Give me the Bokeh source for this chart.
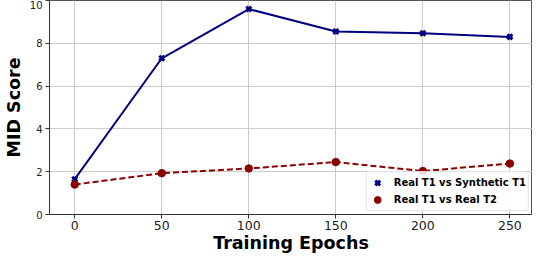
from bokeh.plotting import figure
from bokeh.models import Range1d, FixedTicker, Legend, LegendItem
from bokeh.embed import file_html
from bokeh.resources import INLINE

epochs = [0, 50, 100, 150, 200, 250]
synthetic_t1 = [1.65, 7.3, 9.6, 8.55, 8.47, 8.3]
real_t2 = [1.4, 1.93, 2.15, 2.45, 2.03, 2.38]
x_ticks = [0, 50, 100, 150, 200, 250]
y_ticks = [0, 2, 4, 6, 8, 10]
label_synth = "Real T1 vs Synthetic T1"
label_real = "Real T1 vs Real T2"

p = figure(width=532, height=255, output_backend="svg", toolbar_location=None,
           x_range=Range1d(-14.5, 263), y_range=Range1d(0, 10),
           min_border_left=36, min_border_right=0, min_border_top=0, min_border_bottom=36)

p.line(epochs, synthetic_t1, line_color="#000080", line_width=2)
r1 = p.scatter(epochs, synthetic_t1, marker="x", size=7, line_color="#000080", line_width=3)
p.line(epochs, real_t2, line_color="#8B0000", line_width=2, line_dash="6 3")
r2 = p.scatter(epochs, real_t2, marker="circle", size=7.5, fill_color="#8B0000", line_color="#8B0000")

legend = Legend(items=[LegendItem(label=label_synth, renderers=[r1]),
                       LegendItem(label=label_real, renderers=[r2])],
                location="bottom_right")
legend.label_text_font = "DejaVu Sans"
legend.label_text_font_style = "bold"
legend.label_text_font_size = "10px"
legend.label_text_color = "black"
legend.label_height = 16
legend.glyph_height = 17
legend.glyph_width = 17
legend.spacing = -3
legend.padding = 2
legend.margin = 3
legend.label_standoff = 8
legend.border_line_color = "#cccccc"
legend.border_radius = 3
legend.background_fill_alpha = 0.85
p.add_layout(legend)

p.xaxis.ticker = FixedTicker(ticks=x_ticks)
p.yaxis.ticker = FixedTicker(ticks=y_ticks)
p.xaxis.axis_label = "Training Epochs"
p.yaxis.axis_label = "MID Score"
for ax in (p.xaxis, p.yaxis):
    ax.axis_label_text_font = "DejaVu Sans"
    ax.axis_label_text_font_style = "bold"
    ax.axis_label_text_font_size = "17.5px"
    ax.axis_label_text_color = "black"
    ax.major_label_text_font = "DejaVu Sans"
    ax.major_label_text_color = "#222222"
    ax.axis_line_color = "#333333"
    ax.major_tick_line_color = "#333333"
    ax.minor_tick_line_color = None
    ax.major_tick_out = 4
    ax.major_tick_in = 0
    ax.major_label_standoff = 3
p.xaxis.major_label_text_font_size = "12.5px"
p.yaxis.major_label_text_font_size = "10px"
p.xaxis.major_label_standoff = 2
p.xaxis.axis_label_standoff = 0
p.yaxis.axis_label_standoff = 3

p.xgrid.grid_line_color = "#cccccc"
p.ygrid.grid_line_color = "#cccccc"
p.outline_line_color = "#555555"

open("out.html", "w").write(file_html(p, INLINE))
